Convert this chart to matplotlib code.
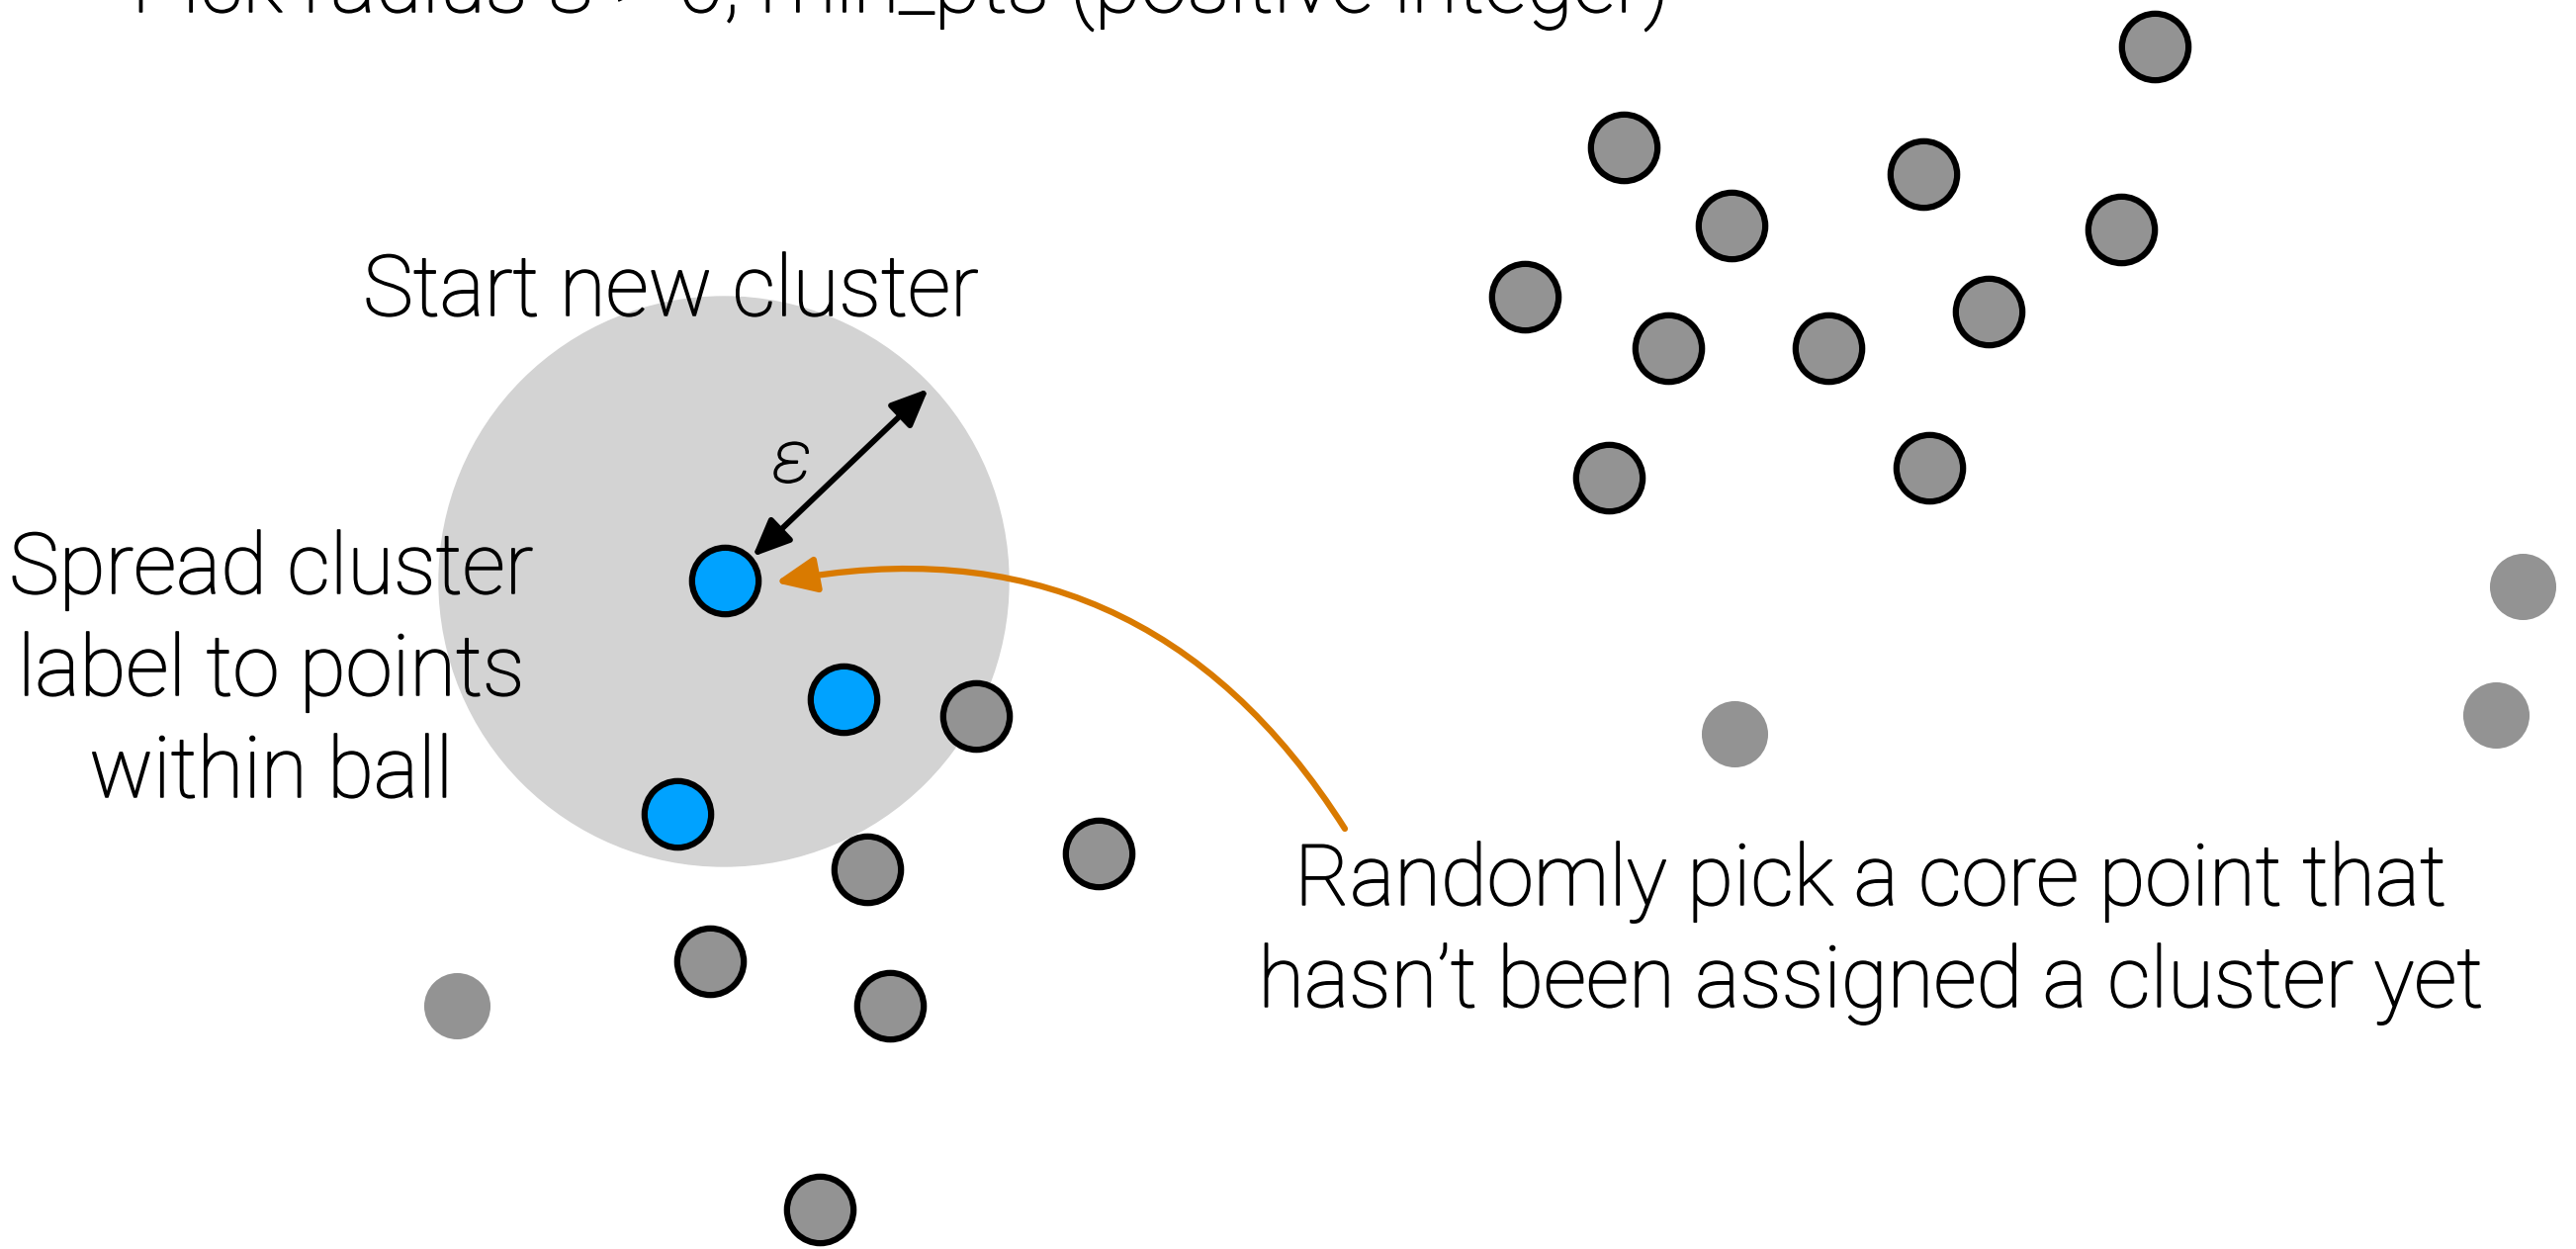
import matplotlib.pyplot as plt
import matplotlib.patheffects as pe
from matplotlib.patches import Circle, FancyArrowPatch

# figure canvas in pixels (x right, y down)
W, H = 2605, 1263

# points already labelled with the new cluster
blue_x = [733, 853, 685]
blue_y = [587, 707, 823]

# core points still waiting for a cluster
core_x = [987, 877, 1111, 718, 900, 829,
          2179, 1642, 1945, 1751, 2145, 1542, 2011, 1687, 1849, 1627, 1951]
core_y = [724, 879, 863, 972, 1017, 1223,
          47, 149, 176, 228, 232, 300, 315, 352, 352, 483, 473]

# noise points (no outline)
noise_x = [462, 1754, 2551, 2524]
noise_y = [1017, 742, 593, 723]

# eps ball around the picked point
ball_center = (732, 588)
ball_radius = 288

plt.rcParams['font.family'] = ['Roboto', 'DejaVu Sans']

fig = plt.figure(figsize=(W / 100, H / 100), dpi=100)
ax = fig.add_axes([0, 0, 1, 1])
ax.set_xlim(0, W)
ax.set_ylim(H, 0)
ax.axis('off')

ax.add_patch(Circle(ball_center, ball_radius, color='#D3D3D3', zorder=1))

# markers
ax.scatter(noise_x, noise_y, s=2330, color='#939393', linewidths=0, zorder=3)
ax.scatter(core_x, core_y, s=2350, color='#939393', edgecolors='black', linewidths=4.5, zorder=3)
ax.scatter(blue_x, blue_y, s=2350, color='#00A2FF', edgecolors='black', linewidths=4.5, zorder=3)

# slightly thicker strokes for the light font
bold_fx = [pe.withStroke(linewidth=1.1, foreground='black')]

# epsilon arrow
eps = FancyArrowPatch((761, 563), (939, 393), arrowstyle='<|-|>,head_length=23,head_width=10',
                      mutation_scale=1, color='black', lw=4.2, shrinkA=0, shrinkB=0, zorder=4)
ax.add_patch(eps)
ax.text(801, 467, '\u03b5', fontsize=54, fontweight='light', ha='center', va='center',
        fontstyle='italic', zorder=5, path_effects=bold_fx)

# orange curved arrow
pick = FancyArrowPatch((1360, 838), (784, 589), connectionstyle='arc3,rad=0.34',
                       arrowstyle='-|>,head_length=25,head_width=11', mutation_scale=1,
                       color='#D97A00', lw=4.5, shrinkA=0, shrinkB=0, zorder=4)
ax.add_patch(pick)

fs = 61.5
wt = 'light'
ax.text(133, 12, 'Pick radius \u03b5 > 0, min_pts (positive integer)', fontsize=fs,
        fontweight=wt, ha='left', va='baseline', zorder=5, path_effects=bold_fx)
ax.text(678, 319, 'Start new cluster', fontsize=fs, fontweight=wt,
        ha='center', va='baseline', zorder=5, path_effects=bold_fx)

spread_lines = ['Spread cluster', 'label to points', 'within ball']
for i, line in enumerate(spread_lines):
    ax.text(274, 600 + 103 * i, line, fontsize=fs, fontweight=wt,
            ha='center', va='baseline', zorder=5, path_effects=bold_fx)

pick_lines = ['Randomly pick a core point that', 'hasn\u2019t been assigned a cluster yet']
for i, line in enumerate(pick_lines):
    ax.text(1891, 915 + 103 * i, line, fontsize=fs, fontweight=wt,
            ha='center', va='baseline', zorder=5, path_effects=bold_fx)

fig.savefig('out.png', dpi=100)
